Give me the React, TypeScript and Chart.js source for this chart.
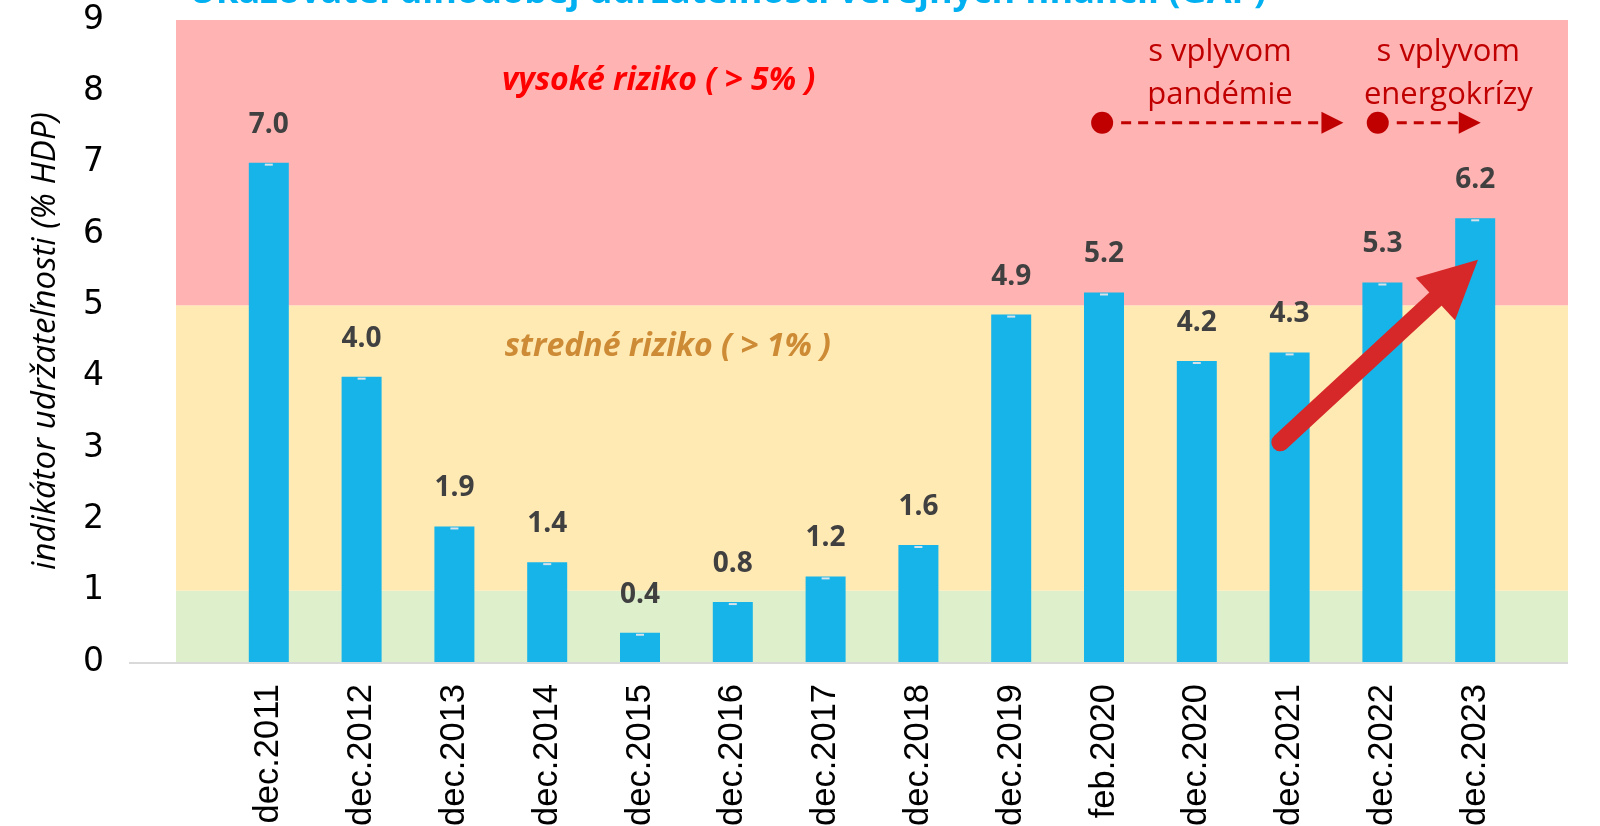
import React, { useEffect, useRef } from 'react';
import { Chart, registerables } from 'chart.js';

Chart.register(...registerables);

// ---- data ----
const categories = [
  'dec.2011', 'dec.2012', 'dec.2013', 'dec.2014', 'dec.2015', 'dec.2016', 'dec.2017',
  'dec.2018', 'dec.2019', 'feb.2020', 'dec.2020', 'dec.2021', 'dec.2022', 'dec.2023',
];
const gapValues = [7.0, 4.0, 1.9, 1.4, 0.41, 0.84, 1.2, 1.64, 4.87, 5.18, 4.22, 4.34, 5.32, 6.22];
const yTickValues = [0, 1, 2, 3, 4, 5, 6, 7, 8, 9];

const chartTitle = 'Ukazovateľ dlhodobej udržateľnosti verejných financií (GAP)';
const yAxisTitle = 'indikátor udržateľnosti (% HDP)';

// risk bands (value limits) and their colours
const bandLimits = [0, 1, 5, 9];
const bandColors = ['#DDEFCB', '#FFEAB4', '#FFB3B3'];

// risk band captions: [category index, value]
const riskLabels = ['vysoké riziko ( > 5% )', 'stredné riziko ( > 1% )'];
const riskLabelPos = [[4.2, 8.15], [4.3, 4.42]];
const riskLabelColors = ['#FF0000', '#CD8B36'];

// impact annotations
const impactLines = [['s vplyvom', 'pandémie'], ['s vplyvom', 'energokrízy']];
const impactTextIndex = [10.25, 12.71];
const impactTextRows = [8.55, 7.95];
const impactArrowFrom = [8.98, 11.95];
const impactArrowTo = [11.58, 13.06];
const impactArrowLevel = 7.56;

// trend arrow: [category index, value]
const trendArrowFrom = [10.9, 3.08];
const trendArrowTo = [13.03, 5.64];

// padded series for the category scale (one empty slot each side)
const paddedLabels = ['', ...categories, ''];
const paddedValues = [null, ...gapValues, null];

const BAR_BLUE = '#16B4E9';
const ANNOT_RED = '#C00000';

const decorPlugin = {
  id: 'decor',
  beforeDatasetsDraw(chart: any) {
    const { ctx, chartArea, scales } = chart;
    const y = scales.y;
    ctx.save();
    for (let i = 0; i < bandColors.length; i++) {
      const top = y.getPixelForValue(bandLimits[i + 1]);
      const bot = y.getPixelForValue(bandLimits[i]);
      ctx.fillStyle = bandColors[i];
      ctx.fillRect(chartArea.left, top, chartArea.right - chartArea.left, bot - top);
    }
    // axis line
    const y0 = y.getPixelForValue(0);
    ctx.strokeStyle = '#D9D9D9';
    ctx.lineWidth = 2;
    ctx.beginPath();
    ctx.moveTo(chartArea.left - 47, y0 + 1);
    ctx.lineTo(chartArea.right, y0 + 1);
    ctx.stroke();
    ctx.restore();
  },
  afterDatasetsDraw(chart: any) {
    const { ctx, scales } = chart;
    const x = scales.x;
    const y = scales.y;
    const px = (i: number) => x.getPixelForValue(i + 1);
    const meta = chart.getDatasetMeta(0);
    ctx.save();
    // caps + value labels
    meta.data.forEach((bar: any, idx: number) => {
      const v = paddedValues[idx];
      if (v == null) return;
      ctx.fillStyle = '#D9E2E8';
      ctx.fillRect(bar.x - 4, bar.y + 1, 8, 2);
      ctx.fillStyle = '#404040';
      ctx.font = 'bold 28px "Open Sans"';
      ctx.textAlign = 'center';
      ctx.textBaseline = 'middle';
      ctx.fillText((v as number).toFixed(1), bar.x, bar.y - 38);
    });

    // risk captions
    riskLabels.forEach((t, i) => {
      ctx.fillStyle = riskLabelColors[i];
      ctx.font = 'italic bold 32px "Open Sans"';
      ctx.textAlign = 'center';
      ctx.textBaseline = 'middle';
      ctx.fillText(t, px(riskLabelPos[i][0]), y.getPixelForValue(riskLabelPos[i][1]));
    });

    // impact text
    ctx.fillStyle = ANNOT_RED;
    ctx.font = '31px "Open Sans"';
    ctx.textAlign = 'center';
    ctx.textBaseline = 'middle';
    impactLines.forEach((lines, i) => {
      lines.forEach((ln, r) => {
        ctx.fillText(ln, px(impactTextIndex[i]), y.getPixelForValue(impactTextRows[r]));
      });
    });

    // impact dashed arrows
    const ay = y.getPixelForValue(impactArrowLevel);
    impactArrowFrom.forEach((f, i) => {
      const x1 = px(f);
      const x2 = px(impactArrowTo[i]);
      ctx.fillStyle = ANNOT_RED;
      ctx.beginPath();
      ctx.arc(x1, ay, 11, 0, Math.PI * 2);
      ctx.fill();
      ctx.strokeStyle = ANNOT_RED;
      ctx.lineWidth = 3;
      ctx.setLineDash([10, 7]);
      ctx.beginPath();
      ctx.moveTo(x1 + 19, ay);
      ctx.lineTo(x2 - 21, ay);
      ctx.stroke();
      ctx.setLineDash([]);
      ctx.beginPath();
      ctx.moveTo(x2, ay);
      ctx.lineTo(x2 - 22, ay - 11);
      ctx.lineTo(x2 - 22, ay + 11);
      ctx.closePath();
      ctx.fill();
    });

    // trend arrow
    const sx = px(trendArrowFrom[0]);
    const sy = y.getPixelForValue(trendArrowFrom[1]);
    const tx = px(trendArrowTo[0]);
    const ty = y.getPixelForValue(trendArrowTo[1]);
    const dx = tx - sx;
    const dy = ty - sy;
    const len = Math.hypot(dx, dy);
    const ux = dx / len;
    const uy = dy / len;
    const headLen = 58;
    const headHalf = 29;
    const bx = tx - ux * headLen;
    const by = ty - uy * headLen;
    ctx.strokeStyle = '#D62828';
    ctx.fillStyle = '#D62828';
    ctx.lineWidth = 18;
    ctx.lineCap = 'round';
    ctx.beginPath();
    ctx.moveTo(sx, sy);
    ctx.lineTo(bx + ux * 4, by + uy * 4);
    ctx.stroke();
    ctx.beginPath();
    ctx.moveTo(tx, ty);
    ctx.lineTo(bx - uy * headHalf, by + ux * headHalf);
    ctx.lineTo(bx + uy * headHalf, by - ux * headHalf);
    ctx.closePath();
    ctx.fill();

    // title (cut at the top edge)
    ctx.fillStyle = '#00B0F0';
    ctx.font = 'bold 36px "Open Sans"';
    ctx.textAlign = 'left';
    ctx.textBaseline = 'alphabetic';
    ctx.fillText(chartTitle, 189, 3);
    ctx.restore();
  },
};

const clearPadding = (s: any) => {
  s.paddingTop = 0;
  s.paddingBottom = 0;
  s.paddingLeft = 0;
  s.paddingRight = 0;
};

export default function App() {
  const ref = useRef<HTMLCanvasElement | null>(null);
  useEffect(() => {
    if (!ref.current) return;
    const chart = new Chart(ref.current, {
      type: 'bar',
      data: {
        labels: paddedLabels,
        datasets: [
          {
            data: paddedValues as any,
            backgroundColor: BAR_BLUE,
            borderWidth: 0,
            barPercentage: 0.431,
            categoryPercentage: 1,
          },
        ],
      },
      options: {
        responsive: false,
        animation: false,
        devicePixelRatio: 1,
        layout: { padding: { left: 0, right: 32, top: 20, bottom: 0 } },
        plugins: {
          legend: { display: false },
          tooltip: { enabled: false },
        },
        scales: {
          x: {
            offset: false,
            grid: { display: false, drawTicks: false },
            border: { display: false },
            ticks: {
              autoSkip: false,
              maxRotation: 90,
              minRotation: 90,
              padding: 22,
              color: '#000',
              font: { family: '"Liberation Sans"', size: 34.5 },
            },
            afterFit: (s: any) => {
              s.height = 164;
              clearPadding(s);
            },
          },
          y: {
            min: 0,
            max: 9,
            afterBuildTicks: (s: any) => {
              s.ticks = yTickValues.map((v) => ({ value: v }));
            },
            ticks: {
              padding: 72,
              color: '#000',
              font: { family: '"DejaVu Sans"', size: 33 },
            },
            grid: { display: false, drawTicks: false },
            border: { display: false },
            title: {
              display: true,
              text: yAxisTitle,
              color: '#000',
              font: { family: '"Open Sans"', size: 33, style: 'italic' },
              padding: { top: 26, bottom: 0 },
            },
            afterFit: (s: any) => {
              s.width = 176;
              clearPadding(s);
            },
          },
        },
      },
      plugins: [decorPlugin],
    });
    return () => chart.destroy();
  }, []);
  return (
    <div style={{ position: 'absolute', left: 0, top: 0, width: 1600, height: 826 }}>
      <canvas ref={ref} width={1600} height={826} />
    </div>
  );
}
